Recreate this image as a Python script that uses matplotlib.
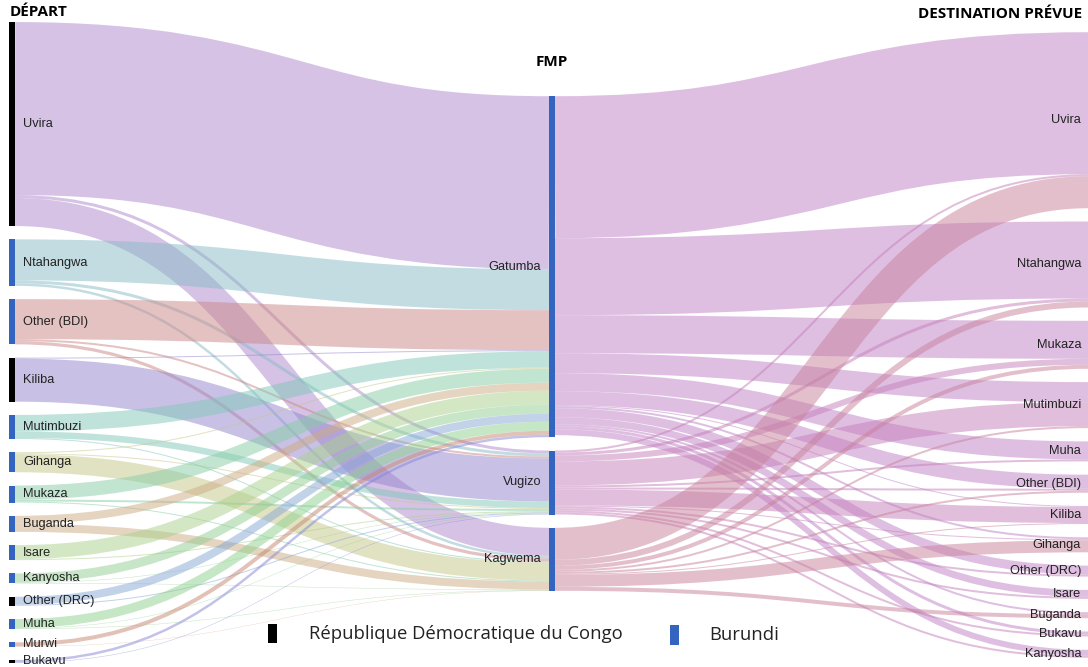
import numpy as np
import matplotlib.pyplot as plt
from matplotlib.path import Path
from matplotlib.patches import PathPatch, Rectangle
from matplotlib.colors import to_rgb

# ---- data -------------------------------------------------------------
left_nodes = ['Uvira', 'Ntahangwa', 'Other (BDI)', 'Kiliba', 'Mutimbuzi', 'Gihanga',
              'Mukaza', 'Buganda', 'Isare', 'Kanyosha', 'Other (DRC)', 'Muha',
              'Murwi', 'Bukavu']
left_country = ['DRC', 'BDI', 'BDI', 'DRC', 'BDI', 'BDI', 'BDI', 'BDI', 'BDI',
                'BDI', 'DRC', 'BDI', 'BDI', 'DRC']
left_tints = ['#d6c3e6', '#c3dde3', '#e5c3c3', '#c9c2e6', '#c0e3dc', '#e2e3c3',
              '#c3e6d3', '#e6d5c0', '#d5e8c5', '#c8e6c8', '#c3d3ea', '#c6e8c6',
              '#e3c3b8', '#c3c3ea']

mid_nodes = ['Gatumba', 'Vugizo', 'Kagwema']
mid_tints = ['#dfc0e3', '#e2bfdc', '#e4c0cd']

right_nodes = ['Uvira', 'Ntahangwa', 'Mukaza', 'Mutimbuzi', 'Muha', 'Other (BDI)',
               'Kiliba', 'Gihanga', 'Other (DRC)', 'Isare', 'Buganda', 'Bukavu',
               'Kanyosha']

# departure -> FMP (same order as left_nodes)
to_gatumba = [173, 41, 40, 1, 16.5, 1, 14, 8, 14, 9, 8, 9, 4, 2.5]
to_vugizo = [3, 3, 2, 43, 6.5, 1, 2, 0, 1, 0.5, 1, 0.5, 0, 0.5]
to_kagwema = [28, 2.5, 3.2, 0, 1, 18, 1, 8, 0, 0.5, 0, 0.5, 0.3, 0]

# FMP -> planned destination (same order as right_nodes)
from_gatumba = [142, 77, 38, 20, 18, 14, 1, 2, 9, 7, 2, 3, 6]
from_vugizo = [2, 3, 6, 24, 2, 2, 16, 1, 2, 2, 0, 2, 2]
from_kagwema = [32, 6, 4, 2, 0, 2, 1, 12, 0, 0, 4, 0, 0]

# ---- layout -----------------------------------------------------------
W, H = 1088, 667
pad = 13.3
node_w = 6
col_x = [9, 549, 1089]
col_center = [342.5, 343.5, 345.0]

inflow = np.array([to_gatumba, to_vugizo, to_kagwema])        # mid x left
outflow = np.array([from_gatumba, from_vugizo, from_kagwema])  # mid x right

left_val = inflow.sum(axis=0)
mid_val = np.maximum(inflow.sum(axis=1), outflow.sum(axis=1))
right_val = outflow.sum(axis=0)


def stack(values, center):
    total = values.sum() + pad * (len(values) - 1)
    y = center - total / 2
    tops = []
    for v in values:
        tops.append(y)
        y += v + pad
    return np.array(tops)


left_y = stack(left_val, col_center[0])
mid_y = stack(mid_val, col_center[1])
right_y = stack(right_val, col_center[2])


def link_positions(flow, src_y, tgt_y):
    # flow[t, s]; at the source links go in target order,
    # at the target they go in source order
    n_t, n_s = flow.shape
    s_pos, t_pos = {}, {}
    for s in range(n_s):
        off = src_y[s]
        for t in range(n_t):
            v = flow[t, s]
            if v > 0:
                s_pos[(s, t)] = off + v / 2
                off += v
    for t in range(n_t):
        off = tgt_y[t]
        for s in range(n_s):
            v = flow[t, s]
            if v > 0:
                t_pos[(s, t)] = off + v / 2
                off += v
    return s_pos, t_pos


fig = plt.figure(figsize=(W / 100, H / 100), dpi=100)
ax = fig.add_axes([0, 0, 1, 1])
ax.set_xlim(0, W)
ax.set_ylim(H, 0)
ax.axis('off')


def band_color(tint, alpha=0.5):
    c = np.array(to_rgb(tint))
    base = np.clip(1 - (1 - c) / alpha, 0, 1)
    return (*base, alpha)


def draw_link(x0, y0, x1, y1, w, color):
    xm = (x0 + x1) / 2
    p = Path([(x0, y0), (xm, y0), (xm, y1), (x1, y1)],
             [Path.MOVETO, Path.CURVE4, Path.CURVE4, Path.CURVE4])
    ax.add_patch(PathPatch(p, fill=False, edgecolor=color,
                           lw=w * 72 / 100, capstyle='butt'))


# left -> middle
s_pos, t_pos = link_positions(inflow, left_y, mid_y)
for (i, j), y0 in s_pos.items():
    draw_link(col_x[0] + node_w, y0, col_x[1], t_pos[(i, j)], inflow[j, i],
              band_color(left_tints[i]))

# middle -> right
s_pos, t_pos = link_positions(outflow.T, mid_y, right_y)
for (j, k), y0 in s_pos.items():
    draw_link(col_x[1] + node_w, y0, col_x[2], t_pos[(j, k)], outflow[j, k],
              band_color(mid_tints[j]))

# nodes and labels
blue = '#3264c0'
lab = dict(va='center', fontsize=9.2, family='Liberation Sans', color='#222222')
for i, name in enumerate(left_nodes):
    col = 'black' if left_country[i] == 'DRC' else blue
    ax.add_patch(Rectangle((col_x[0], left_y[i]), node_w, left_val[i],
                           color=col, lw=0))
    ax.text(col_x[0] + node_w + 8, left_y[i] + left_val[i] / 2, name,
            ha='left', **lab)
for j, name in enumerate(mid_nodes):
    ax.add_patch(Rectangle((col_x[1], mid_y[j]), node_w, mid_val[j],
                           color=blue, lw=0))
    ax.text(col_x[1] - 8, mid_y[j] + mid_val[j] / 2, name, ha='right', **lab)
for k, name in enumerate(right_nodes):
    ax.text(col_x[2] - 8, right_y[k] + right_val[k] / 2, name, ha='right', **lab)

# headers
hdr = dict(va='center', fontsize=11, fontweight='bold', family='Open Sans')
ax.text(10, 12, 'DÉPART', ha='left', **hdr)
ax.text(552, 62, 'FMP', ha='center', **hdr)
ax.text(918, 14, 'DESTINATION PRÉVUE', ha='left', **hdr)

# legend
ax.add_patch(Rectangle((268, 624), 9, 19, color='black', lw=0))
ax.text(309, 634, 'République Démocratique du Congo', ha='left', va='center',
        fontsize=13.3, family='Open Sans', color='#222222')
ax.add_patch(Rectangle((670, 625), 9, 20, color=blue, lw=0))
ax.text(709, 635, 'Burundi', ha='left', va='center',
        fontsize=13.3, family='Open Sans', color='#222222')

fig.savefig('out.png', dpi=100)
